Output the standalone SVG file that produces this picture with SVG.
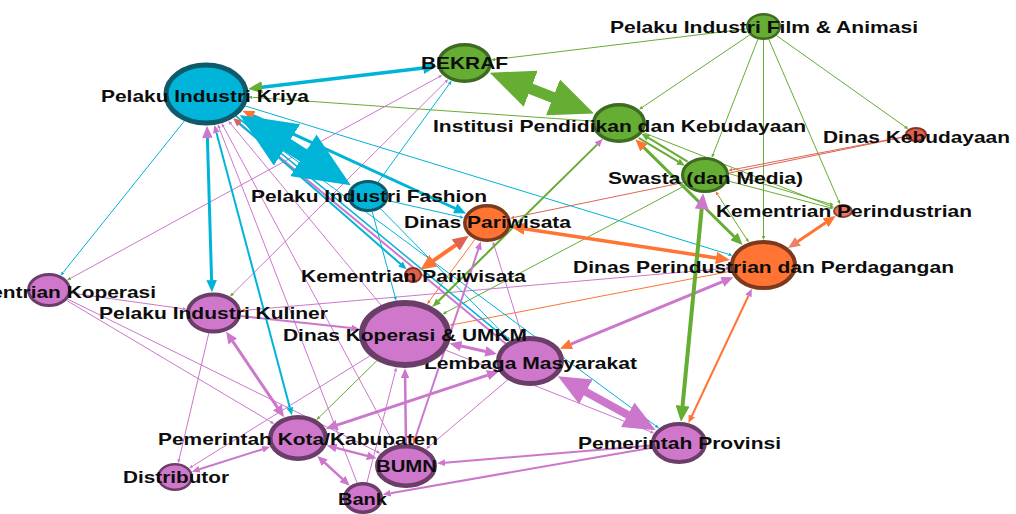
<svg xmlns="http://www.w3.org/2000/svg" width="1016" height="514" viewBox="0 0 1016 514">
<style>
.e{fill:none}
.cy{stroke:#00b4d8}.gr{stroke:#66ad33}.or{stroke:#ff7433}.vi{stroke:#cc77cc}.rd{stroke:#e06352}
.t{stroke-width:1}
.nc{fill:#00b5d9;stroke:#0c5a6a}
.ng{fill:#66ad33;stroke:#3c6b21}
.no{fill:#ff7433;stroke:#7b3a1d}
.nr{fill:#e0604c;stroke:#8a3324}
.ns{fill:#e57a64;stroke:#8a4434}
.nv{fill:#cf78cb;stroke:#6b3e69}
.lb{font-family:"Liberation Sans",Arial,sans-serif;font-weight:bold;font-size:17px;fill:#0d0d0d}
</style>
<defs>
<marker id="ac" viewBox="0 0 4 3.5" refX="0.1" refY="1.75" markerWidth="4" markerHeight="3.5" markerUnits="strokeWidth" orient="auto-start-reverse"><path d="M0,0L4,1.75L0,3.5z" fill="#00b4d8"/></marker>
<marker id="ag" viewBox="0 0 4 3.5" refX="0.1" refY="1.75" markerWidth="4" markerHeight="3.5" markerUnits="strokeWidth" orient="auto-start-reverse"><path d="M0,0L4,1.75L0,3.5z" fill="#66ad33"/></marker>
<marker id="ao" viewBox="0 0 4 3.5" refX="0.1" refY="1.75" markerWidth="4" markerHeight="3.5" markerUnits="strokeWidth" orient="auto-start-reverse"><path d="M0,0L4,1.75L0,3.5z" fill="#ff7433"/></marker>
<marker id="av" viewBox="0 0 4 3.5" refX="0.1" refY="1.75" markerWidth="4" markerHeight="3.5" markerUnits="strokeWidth" orient="auto-start-reverse"><path d="M0,0L4,1.75L0,3.5z" fill="#cc77cc"/></marker>
<marker id="ar" viewBox="0 0 4 3.5" refX="0.1" refY="1.75" markerWidth="4" markerHeight="3.5" markerUnits="strokeWidth" orient="auto-start-reverse"><path d="M0,0L4,1.75L0,3.5z" fill="#e06352"/></marker>
<marker id="as" viewBox="0 0 4 3.5" refX="0.1" refY="1.75" markerWidth="4" markerHeight="3.5" markerUnits="strokeWidth" orient="auto-start-reverse"><path d="M0,0L4,1.75L0,3.5z" fill="#e8836a"/></marker>
</defs>
<g id="connectors">
<line class="e gr t" x1="746" y1="29" x2="495" y2="59.5" marker-end="url(#ag)"/>
<line class="e gr t" x1="749.8" y1="34.9" x2="642.3" y2="107.3" marker-end="url(#ag)"/>
<line class="e gr t" x1="758" y1="39" x2="713.2" y2="154" marker-end="url(#ag)"/>
<line class="e gr t" x1="763.5" y1="40" x2="763.5" y2="236" marker-end="url(#ag)"/>
<line class="e gr t" x1="768.5" y1="38.8" x2="838.5" y2="200.6" marker-end="url(#ag)"/>
<line class="e gr t" x1="775.9" y1="35.1" x2="905.1" y2="126.8" marker-end="url(#ag)"/>
<line class="e gr t" x1="592" y1="121.1" x2="252.3" y2="97.3" marker-end="url(#ag)"/>
<line class="e gr t" x1="642.8" y1="132.4" x2="830.5" y2="206.1" marker-end="url(#ag)"/>
<line class="e gr t" x1="727.7" y1="180.9" x2="829.7" y2="207.6" marker-end="url(#ag)"/>
<line class="e gr t" x1="727" y1="173" x2="830" y2="204" marker-end="url(#ag)"/>
<line class="e gr t" x1="717.7" y1="194.6" x2="746.7" y2="239.1" marker-start="url(#ao)" marker-end="url(#ag)"/>
<line class="e gr t" x1="685.4" y1="185.4" x2="446" y2="312.3" marker-end="url(#ag)"/>
<line class="e gr t" x1="602.7" y1="139" x2="319.4" y2="417.1" marker-end="url(#ag)"/>
<line class="e rd t" x1="905.4" y1="136.5" x2="732.2" y2="169.8" marker-end="url(#ar)"/>
<line class="e rd t" x1="905.4" y1="136.7" x2="514.1" y2="217.4" marker-end="url(#ar)"/>
<line class="e or t" x1="731.1" y1="271.2" x2="453.4" y2="324.6" marker-end="url(#ao)"/>
<line class="e or t" x1="474.9" y1="239.4" x2="429.4" y2="301" marker-end="url(#ao)"/>
<line class="e vi t" x1="244.8" y1="310.3" x2="726.2" y2="268.3" marker-start="url(#ao)" marker-end="url(#av)"/>
<line class="e vi t" x1="70.5" y1="278.3" x2="439" y2="76.9" marker-start="url(#ag)" marker-end="url(#av)"/>
<line class="e vi t" x1="232.8" y1="293.7" x2="445.5" y2="82" marker-start="url(#ag)" marker-end="url(#av)"/>
<line class="e vi t" x1="70.6" y1="293" x2="182.6" y2="308.7" marker-end="url(#av)"/>
<line class="e vi t" x1="66.5" y1="300.4" x2="270.9" y2="421.9" marker-end="url(#av)"/>
<line class="e vi t" x1="67.6" y1="299.1" x2="376.9" y2="451.6" marker-end="url(#av)"/>
<line class="e vi t" x1="208.8" y1="333.2" x2="179.1" y2="459.3" marker-end="url(#av)"/>
<line class="e vi t" x1="395" y1="445.5" x2="223.6" y2="126.8" marker-end="url(#av)"/>
<line class="e vi t" x1="357.1" y1="482.7" x2="219.2" y2="128" marker-end="url(#av)"/>
<line class="e vi t" x1="507.7" y1="379.9" x2="429" y2="446.5" marker-end="url(#av)"/>
<line class="e vi t" x1="367" y1="482.3" x2="395.4" y2="371.3" marker-end="url(#av)"/>
<line class="e vi t" x1="369.8" y1="355.9" x2="192.5" y2="466.1" marker-end="url(#av)"/>
<line class="e vi t" x1="522.4" y1="336.6" x2="494" y2="245.2" marker-end="url(#av)"/>
<line class="e vi t" x1="445.5" y1="350.1" x2="650.6" y2="431.7" marker-end="url(#av)"/>
<line class="e vi t" x1="381" y1="305" x2="230.9" y2="124" marker-end="url(#av)"/>
<line class="e cy t" x1="184.3" y1="121.1" x2="63.1" y2="272.5" marker-end="url(#ac)"/>
<line class="e cy t" x1="245.3" y1="106" x2="728.7" y2="254.3" marker-end="url(#ac)"/>
<line class="e cy t" x1="378.1" y1="182.1" x2="449.3" y2="84" marker-end="url(#ac)"/>
<line class="e cy t" x1="387.7" y1="200.5" x2="460" y2="216.9" marker-end="url(#ac)"/>
<line class="e cy t" x1="372.2" y1="211.6" x2="395.1" y2="296.8" marker-end="url(#ac)"/>
<line class="e cy t" x1="236.1" y1="116.2" x2="655.8" y2="425.9" marker-end="url(#ac)"/>
<line class="e cy t" x1="380.5" y1="208.7" x2="507.3" y2="337.8" marker-end="url(#ac)"/>
<line class="e cy" stroke-width="1.5" x1="235.7" y1="115.9" x2="504.1" y2="337.1" marker-end="url(#ac)"/>
<line class="e vi" stroke-width="2" x1="506.1" y1="344" x2="239.3" y2="124" marker-end="url(#av)"/>
<line class="e gr" stroke-width="2" x1="597.1" y1="144.6" x2="438.3" y2="301.2" marker-start="url(#av)" marker-end="url(#ag)"/>
<line class="e vi" stroke-width="2" x1="240.5" y1="316" x2="351.5" y2="328.1" marker-end="url(#av)"/>
<line class="e vi" stroke-width="2" x1="262.7" y1="449.2" x2="199.3" y2="469.3" marker-start="url(#av)" marker-end="url(#av)"/>
<line class="e vi" stroke-width="2" x1="651.7" y1="447.7" x2="390.4" y2="493.2" marker-end="url(#av)"/>
<line class="e vi" stroke-width="2" x1="651.1" y1="445.4" x2="444.9" y2="462.7" marker-end="url(#av)"/>
<line class="e vi" stroke-width="2" x1="415.6" y1="437" x2="478.4" y2="249" marker-start="url(#ao)" marker-end="url(#av)"/>
<line class="e vi" stroke-width="2.5" x1="406" y1="444" x2="405.1" y2="378" marker-end="url(#av)"/>
<line class="e vi" stroke-width="2.5" x1="324.5" y1="462.5" x2="342.6" y2="479.1" marker-start="url(#av)" marker-end="url(#av)"/>
<line class="e vi" stroke-width="2.5" x1="336.2" y1="447.9" x2="367.2" y2="455.9" marker-start="url(#av)" marker-end="url(#av)"/>
<line class="e vi" stroke-width="3" x1="232.6" y1="341.2" x2="277.5" y2="407.6" marker-start="url(#av)" marker-end="url(#av)"/>
<line class="e vi" stroke-width="3" x1="487.7" y1="375.1" x2="336.9" y2="425.1" marker-start="url(#av)" marker-end="url(#av)"/>
<line class="e vi" stroke-width="3" x1="460.9" y1="346" x2="485.7" y2="351.5" marker-start="url(#av)" marker-end="url(#av)"/>
<line class="e vi" stroke-width="8" x1="585.2" y1="391.4" x2="628.4" y2="415.2" marker-start="url(#av)" marker-end="url(#av)"/>
<line class="e vi" stroke-width="3" x1="722.6" y1="281.7" x2="570.8" y2="344.2" marker-start="url(#av)" marker-end="url(#ao)"/>
<line class="e or" stroke-width="2" x1="748.5" y1="295.8" x2="691.8" y2="416" marker-start="url(#av)" marker-end="url(#ao)"/>
<line class="e or" stroke-width="3" x1="825.9" y1="222.6" x2="797.8" y2="241.5" marker-start="url(#ao)" marker-end="url(#as)"/>
<line class="e or" stroke-width="3.5" x1="524.3" y1="228.7" x2="716.4" y2="257.9" marker-start="url(#ao)" marker-end="url(#ao)"/>
<line class="e or" stroke-width="4" x1="456" y1="244.8" x2="433.1" y2="260.9" marker-start="url(#ar)" marker-end="url(#ao)"/>
<line class="e gr" stroke-width="2" x1="638.7" y1="137.8" x2="678.2" y2="161.7" marker-end="url(#ag)"/>
<line class="e gr" stroke-width="2" x1="687.6" y1="161.6" x2="648.1" y2="137.7" marker-end="url(#ag)"/>
<line class="e gr" stroke-width="3" x1="643.7" y1="147.4" x2="734.3" y2="236.7" marker-start="url(#ao)" marker-end="url(#ag)"/>
<line class="e gr" stroke-width="4" x1="701.7" y1="208.8" x2="682.5" y2="406.2" marker-start="url(#av)" marker-end="url(#ag)"/>
<line class="e cy" stroke-width="2" x1="239.5" y1="123.3" x2="400.6" y2="264.1" marker-start="url(#ar)" marker-end="url(#ac)"/>
<line class="e cy" stroke-width="3" x1="253.1" y1="115.6" x2="455.4" y2="208.5" marker-start="url(#ao)" marker-end="url(#ac)"/>
<line class="e cy" stroke-width="2" x1="216.4" y1="132.6" x2="289.9" y2="407.8" marker-start="url(#av)" marker-end="url(#ac)"/>
<line class="e cy" stroke-width="3" x1="207.4" y1="137.5" x2="211.6" y2="280.5" marker-start="url(#av)" marker-end="url(#ac)"/>
<line class="e gr" stroke-width="11" x1="529.7" y1="88.3" x2="554" y2="97.8" marker-start="url(#ag)" marker-end="url(#ag)"/>
<line class="e cy" stroke-width="3.5" x1="261.8" y1="87.3" x2="423.5" y2="67.9" marker-start="url(#ag)" marker-end="url(#ac)"/>
<line class="e cy" stroke-width="14" x1="285.8" y1="144.2" x2="304.6" y2="156.1" marker-start="url(#ac)" marker-end="url(#ac)"/>
</g>
<g id="n-film"><ellipse class="ng" stroke-width="2.5" cx="763.5" cy="26.5" rx="16.2" ry="12.2"/><text class="lb" x="610" y="33" textLength="308" lengthAdjust="spacingAndGlyphs">Pelaku Industri Film &amp; Animasi</text></g>
<g id="n-bekraf"><ellipse class="ng" stroke-width="3.5" cx="464.5" cy="63" rx="25.7" ry="18.2"/><text class="lb" x="421" y="69" textLength="87" lengthAdjust="spacingAndGlyphs">BEKRAF</text></g>
<g id="n-kriya"><ellipse class="nc" stroke-width="5" cx="206" cy="94" rx="40" ry="29"/><text class="lb" x="101" y="102" textLength="208" lengthAdjust="spacingAndGlyphs">Pelaku Industri Kriya</text></g>
<g id="n-institusi"><ellipse class="ng" stroke-width="3.5" cx="619" cy="123" rx="25.2" ry="18.2"/><text class="lb" x="433" y="132" textLength="373" lengthAdjust="spacingAndGlyphs">Institusi Pendidikan dan Kebudayaan</text></g>
<g id="n-kebudayaan"><ellipse class="nr" stroke-width="2" cx="916" cy="134.5" rx="10" ry="6.5"/><text class="lb" x="823" y="143" textLength="187" lengthAdjust="spacingAndGlyphs">Dinas Kebudayaan</text></g>
<g id="n-swasta"><ellipse class="ng" stroke-width="3" cx="705" cy="175" rx="22.5" ry="16.5"/><text class="lb" x="608" y="184" textLength="195" lengthAdjust="spacingAndGlyphs">Swasta (dan Media)</text></g>
<g id="n-kemperind"><ellipse class="ns" stroke-width="2" cx="843" cy="211" rx="9" ry="6"/><text class="lb" x="716" y="217" textLength="256" lengthAdjust="spacingAndGlyphs">Kementrian Perindustrian</text></g>
<g id="n-dinasperind"><ellipse class="no" stroke-width="4" cx="763.5" cy="265" rx="31.5" ry="23"/><text class="lb" x="573" y="273" textLength="381" lengthAdjust="spacingAndGlyphs">Dinas Perindustrian dan Perdagangan</text></g>
<g id="n-dinaspar"><ellipse class="no" stroke-width="3.5" cx="487" cy="223" rx="22.2" ry="17.2"/><text class="lb" x="404" y="228" textLength="167" lengthAdjust="spacingAndGlyphs">Dinas Pariwisata</text></g>
<g id="n-fashion"><ellipse class="nc" stroke-width="3" cx="368" cy="196" rx="19" ry="14.5"/><text class="lb" x="251" y="202" textLength="236" lengthAdjust="spacingAndGlyphs">Pelaku Industri Fashion</text></g>
<g id="n-kempar"><ellipse class="nr" stroke-width="2" cx="413" cy="275" rx="8" ry="7"/><text class="lb" x="301" y="282" textLength="225" lengthAdjust="spacingAndGlyphs">Kementrian Pariwisata</text></g>
<g id="n-kemkop"><ellipse class="nv" stroke-width="3" cx="49" cy="290" rx="20.5" ry="15.5"/><text class="lb" x="-54" y="298" textLength="210" lengthAdjust="spacingAndGlyphs">Kementrian Koperasi</text></g>
<g id="n-kuliner"><ellipse class="nv" stroke-width="4" cx="213.5" cy="313" rx="25.5" ry="18.5"/><text class="lb" x="99" y="319" textLength="229" lengthAdjust="spacingAndGlyphs">Pelaku Industri Kuliner</text></g>
<g id="n-lembaga"><ellipse class="nv" stroke-width="5" cx="530" cy="361" rx="31.5" ry="22.5"/><text class="lb" x="424" y="369" textLength="213" lengthAdjust="spacingAndGlyphs">Lembaga Masyarakat</text></g>
<g id="n-dinkop"><ellipse class="nv" stroke-width="6" cx="405" cy="334" rx="43" ry="31"/><text class="lb" x="283" y="341" textLength="244" lengthAdjust="spacingAndGlyphs">Dinas Koperasi &amp; UMKM</text></g>
<g id="n-prov"><ellipse class="nv" stroke-width="4" cx="679" cy="443" rx="26" ry="19"/><text class="lb" x="578" y="449" textLength="203" lengthAdjust="spacingAndGlyphs">Pemerintah Provinsi</text></g>
<g id="n-bank"><ellipse class="nv" stroke-width="3.5" cx="363" cy="498" rx="18.2" ry="14.2"/><text class="lb" x="338" y="505" textLength="49" lengthAdjust="spacingAndGlyphs">Bank</text></g>
<g id="n-bumn"><ellipse class="nv" stroke-width="4.5" cx="406" cy="466" rx="28.7" ry="19.7"/><text class="lb" x="376" y="472" textLength="61" lengthAdjust="spacingAndGlyphs">BUMN</text></g>
<g id="n-kota"><ellipse class="nv" stroke-width="4.5" cx="298" cy="438" rx="27.7" ry="20.7"/><text class="lb" x="158" y="445" textLength="280" lengthAdjust="spacingAndGlyphs">Pemerintah Kota/Kabupaten</text></g>
<g id="n-distributor"><ellipse class="nv" stroke-width="2.5" cx="175" cy="477" rx="16.7" ry="12.7"/><text class="lb" x="123" y="483" textLength="106" lengthAdjust="spacingAndGlyphs">Distributor</text></g>
</svg>
